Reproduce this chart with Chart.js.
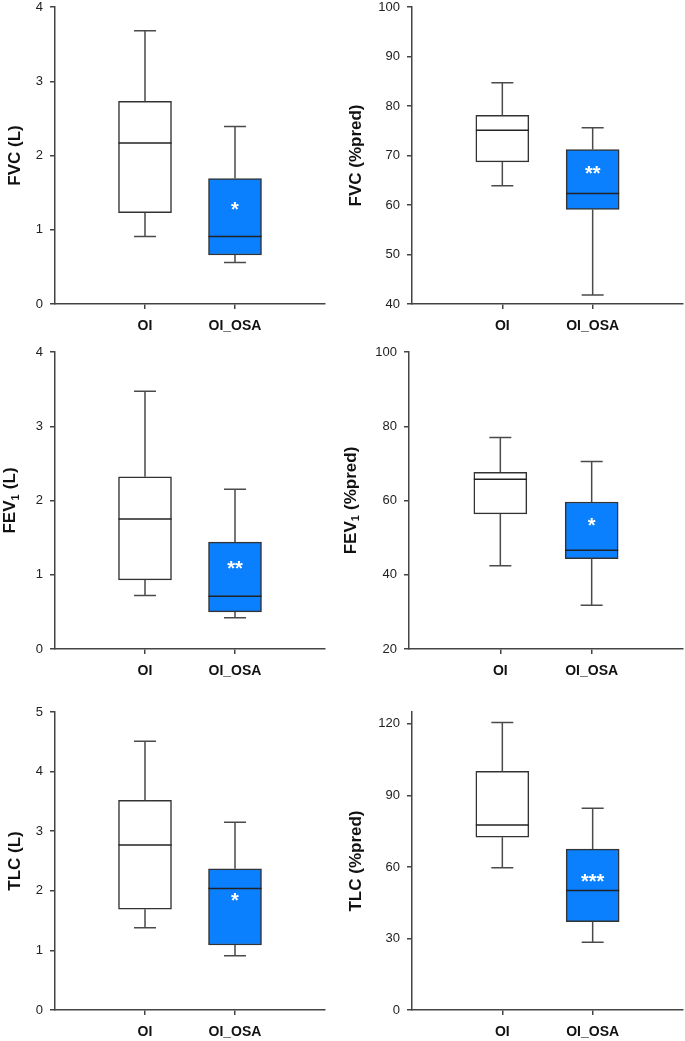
<!DOCTYPE html>
<html><head><meta charset="utf-8">
<script src="https://cdn.jsdelivr.net/npm/chart.js@4.4.1/dist/chart.umd.min.js"></script>
<style>
html,body{margin:0;padding:0;background:#fff;}
#wrap{position:relative;width:685px;height:1041px;overflow:hidden;background:#fff;}
canvas{position:absolute;}
</style></head><body><div id="wrap">
<canvas id="c1"></canvas><canvas id="c2"></canvas><canvas id="c3"></canvas>
<canvas id="c4"></canvas><canvas id="c5"></canvas><canvas id="c6"></canvas>
</div>
<script>
// ---------- DATA ----------
const categories = ['OI', 'OI_OSA'];
// five-number summaries: [min, q1, median, q3, max]
const fvcL_OI     = [0.91, 1.23, 2.17, 2.73, 3.68];
const fvcL_OSA    = [0.56, 0.66, 0.91, 1.69, 2.39];
const fvcPct_OI   = [63.9, 68.7, 75.1, 78.1, 84.7];
const fvcPct_OSA  = [41.8, 59.1, 62.3, 71.2, 75.6];
const fev1L_OI    = [0.72, 0.93, 1.75, 2.32, 3.47];
const fev1L_OSA   = [0.42, 0.50, 0.71, 1.44, 2.15];
const fev1Pct_OI  = [42.4, 56.4, 65.7, 67.6, 77.0];
const fev1Pct_OSA = [31.8, 44.3, 46.6, 59.6, 70.5];
const tlcL_OI     = [1.38, 1.69, 2.77, 3.52, 4.51];
const tlcL_OSA    = [0.91, 1.09, 2.04, 2.37, 3.15];
const tlcPct_OI   = [59.7, 72.5, 77.6, 100.1, 120.6];
const tlcPct_OSA  = [28.4, 37.1, 50.1, 67.5, 84.6];
// y-axis tick labels
const ticksFvcL    = [0, 1, 2, 3, 4];
const ticksFvcPct  = [40, 50, 60, 70, 80, 90, 100];
const ticksFev1L   = [0, 1, 2, 3, 4];
const ticksFev1Pct = [20, 40, 60, 80, 100];
const ticksTlcL    = [0, 1, 2, 3, 4, 5];
const ticksTlcPct  = [0, 30, 60, 90, 120];
const axisRanges   = [[0, 4], [40, 100], [0, 4], [20, 100], [0, 5], [0, 125]];
// axis titles: [main text, subscript, rest]
const titles = [
  ['FVC', '', ' (L)'], ['FVC', '', ' (%pred)'],
  ['FEV', '1', ' (L)'], ['FEV', '1', ' (%pred)'],
  ['TLC', '', ' (L)'], ['TLC', '', ' (%pred)']
];
// significance marks on OI_OSA box, and the value where each sits
const sigText  = ['*', '**', '**', '*', '*', '***'];
const sigValue = [1.30, 66.7, 1.11, 53.7, 1.87, 54.9];

// ---------- LAYOUT / STYLE ----------
const layouts = [
  {id:'c1', left:0,   top:0,   w:340, h:340, axisW:55, padTop:7,  padRight:15, xH:36, titleX:15},
  {id:'c2', left:340, top:0,   w:345, h:340, axisW:72, padTop:7,  padRight:2,  xH:36, titleX:16},
  {id:'c3', left:0,   top:340, w:340, h:340, axisW:55, padTop:12, padRight:15, xH:31, titleX:10.5},
  {id:'c4', left:340, top:340, w:345, h:340, axisW:69, padTop:12, padRight:2,  xH:31, titleX:11},
  {id:'c5', left:0,   top:680, w:340, h:361, axisW:55, padTop:32, padRight:15, xH:31, titleX:15},
  {id:'c6', left:340, top:680, w:345, h:361, axisW:72, padTop:32, padRight:2,  xH:31, titleX:16}
];
const stats = [
  [fvcL_OI, fvcL_OSA], [fvcPct_OI, fvcPct_OSA],
  [fev1L_OI, fev1L_OSA], [fev1Pct_OI, fev1Pct_OSA],
  [tlcL_OI, tlcL_OSA], [tlcPct_OI, tlcPct_OSA]
];
const yTicks = [ticksFvcL, ticksFvcPct, ticksFev1L, ticksFev1Pct, ticksTlcL, ticksTlcPct];

const FONT = "'Liberation Sans', Arial, Helvetica, sans-serif";
const BLUE = '#0a80ff';
const AXIS = '#444';
const BOX_W = 53, CAP_W = 22;

const boxPlugin = {
  id: 'boxExtras',
  afterDatasetsDraw(chart, args, o) {
    const ctx = chart.ctx, xs = chart.scales.x, ys = chart.scales.y;
    o.stats.forEach((s, i) => {
      const cx = xs.getPixelForValue(i + 1);
      const p = s.map(v => ys.getPixelForValue(v));
      ctx.save();
      ctx.lineWidth = 1.5;
      ctx.strokeStyle = '#4a4a4a';
      ctx.beginPath();
      ctx.moveTo(cx, p[3]); ctx.lineTo(cx, p[4]);
      ctx.moveTo(cx - CAP_W / 2, p[4]); ctx.lineTo(cx + CAP_W / 2, p[4]);
      ctx.moveTo(cx, p[1]); ctx.lineTo(cx, p[0]);
      ctx.moveTo(cx - CAP_W / 2, p[0]); ctx.lineTo(cx + CAP_W / 2, p[0]);
      ctx.stroke();
      ctx.strokeStyle = '#222';
      ctx.beginPath();
      ctx.moveTo(cx - BOX_W / 2, p[2]); ctx.lineTo(cx + BOX_W / 2, p[2]);
      ctx.stroke();
      ctx.restore();
    });
    // significance asterisks
    const sx = xs.getPixelForValue(2), sy = ys.getPixelForValue(o.sigValue);
    ctx.save();
    ctx.fillStyle = '#fff';
    ctx.font = 'bold 20px ' + FONT;
    ctx.textAlign = 'center';
    ctx.textBaseline = 'alphabetic';
    ctx.fillText(o.sigText, sx, sy + 8.5);
    ctx.restore();
    // y-axis title with optional subscript
    const t = o.title;
    const main = 'bold 17px ' + FONT, sub = 'bold 11px ' + FONT;
    ctx.save();
    ctx.fillStyle = '#111';
    ctx.textBaseline = 'middle';
    ctx.textAlign = 'left';
    ctx.font = main; const w0 = ctx.measureText(t[0]).width, w2 = ctx.measureText(t[2]).width;
    ctx.font = sub;  const w1 = t[1] ? ctx.measureText(t[1]).width + 0.5 : 0;
    const total = w0 + w1 + w2;
    const cy = (chart.chartArea.top + chart.chartArea.bottom) / 2;
    ctx.translate(o.titleX, cy);
    ctx.rotate(-Math.PI / 2);
    let x = -total / 2;
    ctx.font = main; ctx.fillText(t[0], x, 0); x += w0;
    if (t[1]) { ctx.font = sub; ctx.fillText(t[1], x, 5); x += w1; }
    ctx.font = main; ctx.fillText(t[2], x, 0);
    ctx.restore();
  }
};

layouts.forEach((L, k) => {
  const cv = document.getElementById(L.id);
  cv.width = L.w; cv.height = L.h;
  cv.style.left = L.left + 'px'; cv.style.top = L.top + 'px';
  cv.style.width = L.w + 'px'; cv.style.height = L.h + 'px';
  const labels = [''].concat(categories, ['']);
  const data = [null, [stats[k][0][1], stats[k][0][3]], [stats[k][1][1], stats[k][1][3]], null];
  new Chart(cv, {
    type: 'bar',
    data: {
      labels: labels,
      datasets: [{
        data: data,
        backgroundColor: ['#fff', '#fff', BLUE, '#fff'],
        borderColor: '#333',
        borderWidth: 1.5,
        borderSkipped: false,
        barThickness: BOX_W
      }]
    },
    plugins: [boxPlugin],
    options: {
      responsive: false,
      animation: false,
      devicePixelRatio: 1,
      layout: {padding: {left: 0, top: L.padTop, right: L.padRight, bottom: 0}},
      plugins: {
        legend: {display: false},
        tooltip: {enabled: false},
        boxExtras: {stats: stats[k], sigText: sigText[k], sigValue: sigValue[k], title: titles[k], titleX: L.titleX}
      },
      scales: {
        x: {
          type: 'category',
          offset: false,
          grid: {offset: false, drawOnChartArea: false, drawTicks: true, tickLength: 5, color: AXIS, lineWidth: 1.5},
          border: {display: true, color: AXIS, width: 1.5},
          ticks: {color: '#111', padding: 9, maxRotation: 0, autoSkip: false,
                  font: {family: FONT, size: 14, weight: 'bold', lineHeight: 1.2}},
          afterBuildTicks: s => { s.ticks = s.ticks.filter(t => t.value === 1 || t.value === 2); },
          afterFit: s => { s.height = L.xH; s.paddingLeft = 0; s.paddingRight = 0; s.paddingTop = 0; s.paddingBottom = 0; }
        },
        y: {
          min: axisRanges[k][0],
          max: axisRanges[k][1],
          grid: {drawOnChartArea: false, drawTicks: true, tickLength: 5, color: AXIS, lineWidth: 1.5},
          border: {display: true, color: AXIS, width: 1.5},
          ticks: {color: '#222', padding: 7, font: {family: FONT, size: 13, lineHeight: 1.2}},
          title: {display: false},
          afterBuildTicks: s => { s.ticks = yTicks[k].map(v => ({value: v})); },
          afterFit: s => { s.width = L.axisW; s.paddingLeft = 0; s.paddingRight = 0; s.paddingTop = 0; s.paddingBottom = 0; }
        }
      }
    }
  });
});
</script>
</body></html>
